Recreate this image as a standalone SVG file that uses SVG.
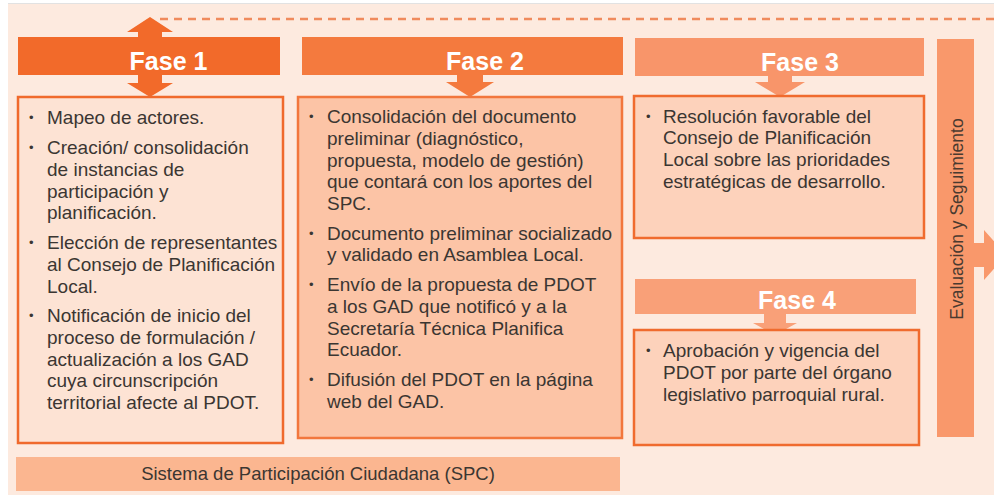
<svg xmlns="http://www.w3.org/2000/svg" width="994" height="495" viewBox="0 0 994 495">
  <style>
    .body { font-family: "Liberation Sans", Arial, sans-serif; font-size: 19px; fill: #3b3632; }
    .bul { font-family: "Liberation Sans", Arial, sans-serif; font-size: 13px; fill: #3b3632; }
    .fase { font-family: "Liberation Sans", Arial, sans-serif; font-size: 25px; font-weight: bold; fill: #ffffff; text-anchor: middle; }
    .box { stroke-width: 2.5; }
  </style>
  <rect x="0" y="0" width="994" height="495" fill="#ffffff"/>
  <rect x="8" y="4" width="986" height="491" fill="#fdeadf"/>
  <line x1="8" y1="3.5" x2="994" y2="3.5" stroke="#e2e2e2" stroke-width="1"/>

  <g id="connectors">
    <line x1="160" y1="19" x2="994" y2="19" stroke="#f08a5c" stroke-width="2.5" stroke-dasharray="8 6"/>
    <!-- Fase 1 double arrow -->
    <polygon points="150,17 173,32 162,32 162,40 138,40 138,32 127,32" fill="#f26a2a"/>
    <polygon points="138,72 162,72 162,83 173,83 150,97 127,83 138,83" fill="#f26a2a"/>
    <!-- Fase 2 arrow -->
    <polygon points="457,72 483,72 483,82 494,82 470,97 446,82 457,82" fill="#f47a3e"/>
    <!-- Fase 3 arrow -->
    <polygon points="768,72 792,72 792,82 805,82 780,97 755,82 768,82" fill="#f8956a"/>
    <!-- Fase 4 arrow -->
    <polygon points="764,311 786,311 786,323 797,323 775,335 753,323 764,323" fill="#f9a078"/>
    <!-- right arrow -->
    <polygon points="972,243 984,243 984,230 1006,255 984,280 984,267 972,267" fill="#f9986b"/>
  </g>

  <g id="fase1">
    <rect x="18" y="37" width="262" height="38" fill="#f26a2a"/>
    <text class="fase" x="168.5" y="70">Fase 1</text>
  </g>
  <g id="fase2">
    <rect x="302" y="37" width="321" height="38" fill="#f47a3e"/>
    <text class="fase" x="485" y="70">Fase 2</text>
  </g>
  <g id="fase3">
    <rect x="635" y="38" width="289" height="38" fill="#f8956a"/>
    <text class="fase" x="800" y="71">Fase 3</text>
  </g>
  <g id="fase4">
    <rect x="635" y="279" width="281" height="35" fill="#f9a078"/>
    <text class="fase" x="797" y="309">Fase 4</text>
  </g>

  <g id="box1">
    <rect class="box" x="18" y="97" width="265" height="346" fill="#fde3d4" stroke="#f06a2c"/>
    <text class="bul" x="29" y="122">•</text>
    <text class="body" x="47" y="124">Mapeo de actores.</text>
    <text class="bul" x="29" y="152">•</text>
    <text class="body" x="47" y="154">Creación/ consolidación</text>
    <text class="body" x="47" y="175.8">de instancias de</text>
    <text class="body" x="47" y="197.6">participación y</text>
    <text class="body" x="47" y="219.4">planificación.</text>
    <text class="bul" x="29" y="247">•</text>
    <text class="body" x="47" y="249">Elección de representantes</text>
    <text class="body" x="47" y="270.8">al Consejo de Planificación</text>
    <text class="body" x="47" y="292.6">Local.</text>
    <text class="bul" x="29" y="320">•</text>
    <text class="body" x="47" y="322">Notificación de inicio del</text>
    <text class="body" x="47" y="343.8">proceso de formulación /</text>
    <text class="body" x="47" y="365.6">actualización a los GAD</text>
    <text class="body" x="47" y="387.4">cuya circunscripción</text>
    <text class="body" x="47" y="409.2">territorial afecte al PDOT.</text>
  </g>

  <g id="box2">
    <rect class="box" x="298" y="97" width="324" height="341" fill="#fcc4a6" stroke="#f2773d"/>
    <text class="bul" x="309" y="121">•</text>
    <text class="body" x="327" y="123">Consolidación del documento</text>
    <text class="body" x="327" y="144.8">preliminar (diagnóstico,</text>
    <text class="body" x="327" y="166.6">propuesta, modelo de gestión)</text>
    <text class="body" x="327" y="188.4">que contará con los aportes del</text>
    <text class="body" x="327" y="210.2">SPC.</text>
    <text class="bul" x="309" y="237.5">•</text>
    <text class="body" x="327" y="239.5">Documento preliminar socializado</text>
    <text class="body" x="327" y="261.3">y validado en Asamblea Local.</text>
    <text class="bul" x="309" y="289">•</text>
    <text class="body" x="327" y="291">Envío de la propuesta de PDOT</text>
    <text class="body" x="327" y="312.8">a los GAD que notificó y a la</text>
    <text class="body" x="327" y="334.6">Secretaría Técnica Planifica</text>
    <text class="body" x="327" y="356.4">Ecuador.</text>
    <text class="bul" x="309" y="384">•</text>
    <text class="body" x="327" y="386">Difusión del PDOT en la página</text>
    <text class="body" x="327" y="407.8">web del GAD.</text>
  </g>

  <g id="box3">
    <rect class="box" x="634" y="96" width="290" height="142" fill="#fdd2bb" stroke="#f06b2e"/>
    <text class="bul" x="646" y="120.5">•</text>
    <text class="body" x="663" y="122.5">Resolución favorable del</text>
    <text class="body" x="663" y="144.3">Consejo de Planificación</text>
    <text class="body" x="663" y="166.1">Local sobre las prioridades</text>
    <text class="body" x="663" y="187.9">estratégicas de desarrollo.</text>
  </g>

  <g id="box4">
    <rect class="box" x="634" y="330" width="285" height="115" fill="#fdd2bb" stroke="#f06b2e"/>
    <text class="bul" x="646" y="355">•</text>
    <text class="body" x="663" y="357">Aprobación y vigencia del</text>
    <text class="body" x="663" y="378.8">PDOT por parte del órgano</text>
    <text class="body" x="663" y="400.6">legislativo parroquial rural.</text>
  </g>

  <g id="evaluacion">
    <rect x="937" y="39" width="37" height="398" fill="#f9986b"/>
    <text x="0" y="0" transform="translate(963,219) rotate(-90)" font-family="'Liberation Sans', Arial, sans-serif" font-size="17.5" fill="#4a3a30" text-anchor="middle">Evaluación y Seguimiento</text>
  </g>

  <g id="spc">
    <rect x="16" y="457" width="604" height="34" fill="#fbb690"/>
    <text x="318" y="480" font-family="'Liberation Sans', Arial, sans-serif" font-size="18.5" fill="#3b3632" text-anchor="middle">Sistema de Participación Ciudadana (SPC)</text>
  </g>
</svg>
